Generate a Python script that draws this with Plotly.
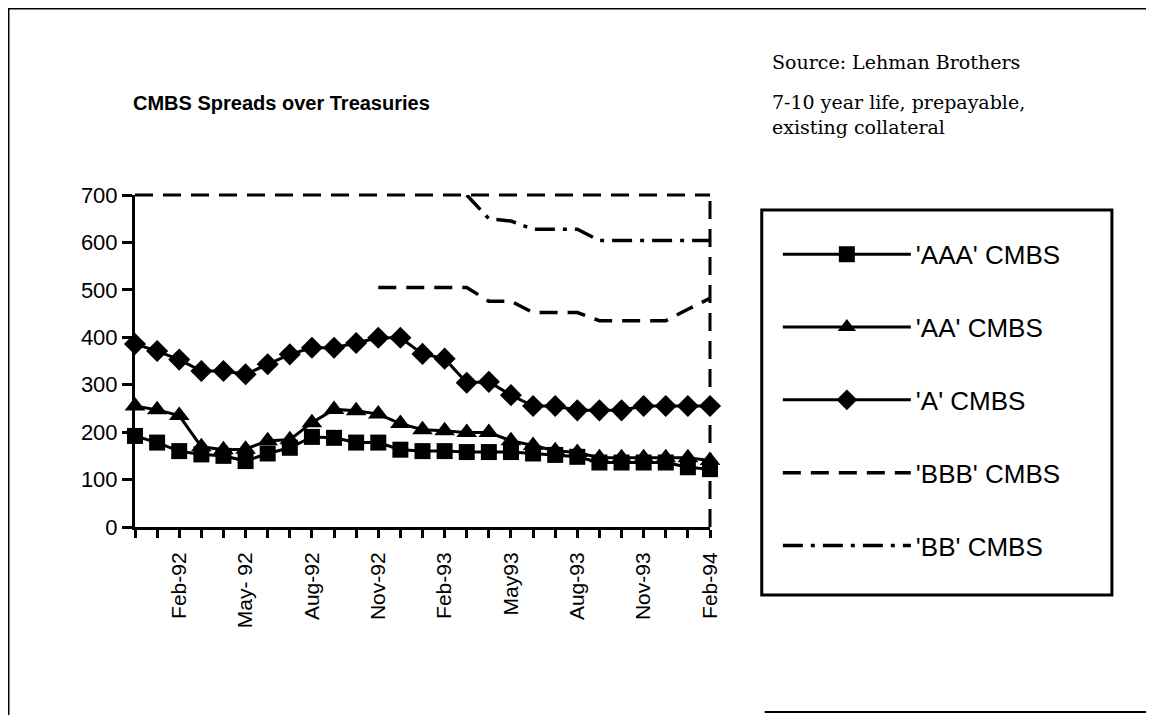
import plotly.graph_objects as go

months = ["Dec-91", "Jan-92", "Feb-92", "Mar-92", "Apr-92", "May-92", "Jun-92", "Jul-92",
          "Aug-92", "Sep-92", "Oct-92", "Nov-92", "Dec-92", "Jan-93", "Feb-93", "Mar-93",
          "Apr-93", "May-93", "Jun-93", "Jul-93", "Aug-93", "Sep-93", "Oct-93", "Nov-93",
          "Dec-93", "Jan-94", "Feb-94"]
# only every third month is labelled, with the original's spelling
shown_labels = {"Feb-92": "Feb-92", "May-92": "May- 92", "Aug-92": "Aug-92",
                "Nov-92": "Nov-92", "Feb-93": "Feb-93", "May-93": "May93",
                "Aug-93": "Aug-93", "Nov-93": "Nov-93", "Feb-94": "Feb-94"}

aaa = [192, 178, 160, 153, 150, 139, 155, 167, 190, 188, 178, 178, 163, 160, 160, 158,
       158, 158, 155, 152, 148, 136, 136, 136, 136, 126, 122]
aa = [255, 247, 235, 169, 163, 164, 182, 184, 220, 248, 245, 238, 218, 205, 203, 199,
      199, 182, 172, 161, 157, 146, 146, 146, 146, 146, 140]
a = [386, 371, 353, 329, 329, 322, 343, 364, 378, 378, 388, 399, 399, 365, 355, 304,
     306, 278, 255, 255, 246, 246, 246, 255, 255, 255, 255]
bbb = [None] * 11 + [505, 505, 505, 505, 505, 476, 476, 452, 452, 452, 435, 435, 435,
                     435, 459, 482]
bb = [None] * 15 + [700, 650, 645, 628, 628, 628, 604, 604, 604, 604, 604, 604]

y_ticks = [0, 100, 200, 300, 400, 500, 600, 700]

pos = list(range(len(months)))
ticktext = [shown_labels.get(m, "") for m in months]

series = [
    ("'AAA' CMBS", aaa, dict(symbol="square", size=16), "solid"),
    ("'AA' CMBS", aa, dict(symbol="triangle-up", size=18), "solid"),
    ("'A' CMBS", a, dict(symbol="diamond", size=17), "solid"),
    ("'BBB' CMBS", bbb, None, "18px,10px"),
    ("'BB' CMBS", bb, None, "20px,8px,4px,8px"),
]

fig = go.Figure()
for i, (name, vals, mk, dash) in enumerate(series):
    fig.add_trace(go.Scatter(
        x=pos, y=vals, name=name, legendgroup=f"g{i}",
        mode="lines+markers" if mk else "lines",
        marker=dict(color="black", **mk) if mk else None,
        line=dict(color="black", width=3 if mk else 3.5, dash=dash),
        cliponaxis=False, connectgaps=False,
    ))

# page is drawn 8px in from the window edge, so the figure is 8px smaller
fig.update_layout(
    width=1146, height=707,
    margin=dict(l=127, r=444, t=187, b=188),
    paper_bgcolor="white", plot_bgcolor="white",
    font=dict(family="Liberation Sans, Arial, sans-serif", color="black"),
    showlegend=True,
    legend=dict(x=1.118, y=0.892, xanchor="left", yanchor="top", maxheight=460,
                font=dict(size=26), tracegroupgap=36, itemwidth=128,
                bgcolor="rgba(0,0,0,0)", borderwidth=0),
    xaxis=dict(range=[0, len(months) - 1], tickmode="array", tickvals=pos, ticktext=ticktext,
               tickangle=-90, ticks="outside", ticklen=8, tickwidth=3, tickcolor="black",
               showline=True, linewidth=3, linecolor="black", showgrid=False, zeroline=False,
               tickfont=dict(size=21), ticklabelstandoff=6, fixedrange=True),
    yaxis=dict(range=[0, 700], tickmode="array", tickvals=y_ticks, ticks="outside",
               ticklen=10, tickwidth=3, tickcolor="black", showline=True, linewidth=3,
               linecolor="black", showgrid=False, zeroline=False, tickfont=dict(size=22),
               fixedrange=True),
    # second pair of axes draws the inner half of the crossing tick marks
    xaxis2=dict(overlaying="x", anchor="y", matches="x", tickmode="array", tickvals=pos,
                ticks="inside", ticklen=8, tickwidth=3, tickcolor="black",
                showticklabels=False, showgrid=False, zeroline=False, showline=False),
    yaxis2=dict(overlaying="y", anchor="x", side="left", range=[0, 700], tickmode="array",
                tickvals=y_ticks, ticks="inside", ticklen=10, tickwidth=3, tickcolor="black",
                showticklabels=False, showgrid=False, zeroline=False, showline=False),
)

# dashed plot-area border on top and right, legend box, page frame
fig.add_shape(type="line", xref="paper", yref="paper", x0=0, x1=1, y0=1, y1=1,
              line=dict(color="black", width=3, dash="18px,10px"))
fig.add_shape(type="line", xref="paper", yref="paper", x0=1, x1=1, y0=0, y1=1,
              line=dict(color="black", width=3, dash="18px,10px"))
fig.add_shape(type="rect", xref="paper", yref="paper", x0=1.090, x1=1.699, y0=-0.205,
              y1=0.955, line=dict(color="black", width=3))
fig.add_shape(type="line", xref="paper", yref="paper", x0=-0.2209, x1=1.78, y0=1.5633,
              y1=1.5633, line=dict(color="black", width=3))
fig.add_shape(type="line", xref="paper", yref="paper", x0=-0.2209, x1=-0.2209, y0=-0.6,
              y1=1.5633, line=dict(color="black", width=3))
fig.add_shape(type="line", xref="paper", yref="paper", x0=1.095, x1=1.78, y0=-0.5572,
              y1=-0.5572, line=dict(color="black", width=2))

fig.add_annotation(text="<b>CMBS Spreads over Treasuries</b>", xref="paper", yref="paper",
                   x=0.254, y=1.277, showarrow=False, xanchor="center", yanchor="middle",
                   font=dict(size=20))
serif = dict(size=19, family="DejaVu Serif, serif")
fig.add_annotation(text="Source: Lehman Brothers", xref="paper", yref="paper", x=1.104,
                   y=1.4006, showarrow=False, xanchor="left", yanchor="middle", font=serif)
fig.add_annotation(text="7-10 year life, prepayable,<br>existing collateral", xref="paper",
                   yref="paper", x=1.104, y=1.241, showarrow=False, xanchor="left",
                   yanchor="middle", align="left", font=serif)

fig.write_html("out.html")
